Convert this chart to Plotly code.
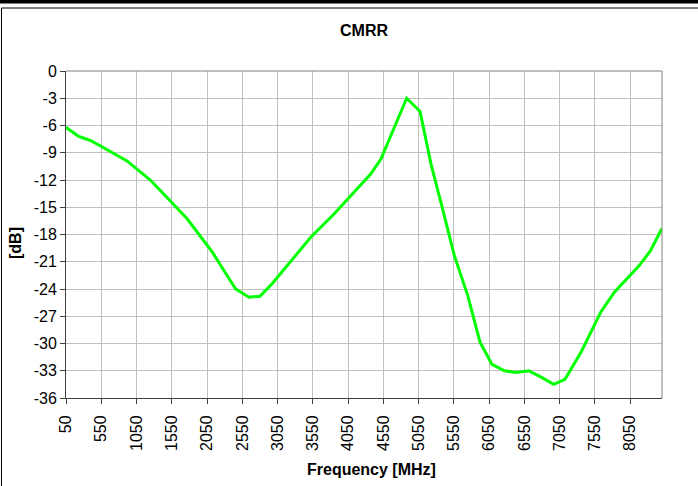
import plotly.graph_objects as go

# Frequency [MHz] and CMRR [dB]
freq_mhz = [50, 230, 395, 540, 915, 1080, 1245, 1435, 1770, 2125, 2455, 2645, 2800, 2975,
            3520, 3850, 4180, 4370, 4515, 4700, 4880, 5070, 5225, 5390, 5555, 5745, 5920,
            6090, 6265, 6430, 6610, 6785, 6965, 7125, 7355, 7635, 7825, 8180, 8335, 8500]
cmrr_db = [-6.2, -7.2, -7.65, -8.25, -9.9, -11.0, -12.0, -13.55, -16.3, -19.95, -24.0, -24.9,
           -24.8, -23.4, -18.3, -15.75, -13.0, -11.35, -9.7, -6.4, -3.0, -4.45, -10.25, -15.2,
           -20.3, -24.7, -29.85, -32.3, -33.0, -33.2, -33.0, -33.7, -34.5, -33.95, -30.9,
           -26.5, -24.35, -21.4, -19.8, -17.3]

x_ticks = list(range(50, 8051, 500))
y_ticks = list(range(-36, 1, 3))

W, H = 698, 486
L, R, T, B = 66, 36, 71, 88
pw, ph = W - L - R, H - T - B

def px(x):
    return (x - L) / pw

def py(y):
    return (H - B - y) / ph

fig = go.Figure()
fig.add_trace(go.Scatter(x=freq_mhz, y=cmrr_db, mode="lines",
                         line=dict(color="#00ff00", width=3), showlegend=False))

font = "Liberation Sans, Arial, sans-serif"
fig.update_layout(
    width=W, height=H,
    margin=dict(l=L, r=R, t=T, b=B, autoexpand=False),
    paper_bgcolor="white", plot_bgcolor="white",
    title=dict(text="<b>CMRR</b>", xref="container", x=364 / W, xanchor="center",
               yref="container", y=1 - 30 / H, yanchor="middle",
               font=dict(family=font, size=16, color="black")),
    xaxis=dict(range=[50, 8500], tickvals=x_ticks, ticktext=[str(v) for v in x_ticks],
               tickangle=-90, showgrid=True, gridcolor="#c0c0c0", gridwidth=1,
               showline=True, linecolor="#404040", linewidth=1, ticks="outside", ticklen=5,
               tickcolor="#404040", tickfont=dict(family=font, size=16, color="black"),
               ticklabelstandoff=5, zeroline=False),
    yaxis=dict(range=[-36, 0], tickvals=y_ticks, ticktext=[str(v) for v in y_ticks],
               showgrid=True, gridcolor="#c0c0c0", gridwidth=1,
               showline=True, linecolor="#404040", linewidth=1, ticks="outside", ticklen=5,
               tickcolor="#404040", tickfont=dict(family=font, size=16, color="black"),
               zeroline=False),
    annotations=[
        dict(text="<b>Frequency [MHz]</b>", xref="paper", yref="paper", x=px(371), y=py(469),
             xanchor="center", yanchor="middle", showarrow=False,
             font=dict(family=font, size=16, color="black")),
        dict(text="<b>[dB]</b>", xref="paper", yref="paper", x=px(15), y=py(243),
             xanchor="center", yanchor="middle", showarrow=False, textangle=-90,
             font=dict(family=font, size=16, color="black")),
    ],
    shapes=[
        # plot frame top/right
        dict(type="line", xref="paper", yref="paper", x0=0, x1=1, y0=1, y1=1,
             line=dict(color="#808080", width=1)),
        dict(type="line", xref="paper", yref="paper", x0=1, x1=1, y0=0, y1=1,
             line=dict(color="#808080", width=1)),
        # thick top band
        dict(type="rect", xref="paper", yref="paper", x0=px(-5), x1=px(W + 5),
             y0=py(3.5), y1=py(-3), fillcolor="black", line=dict(width=0), layer="above"),
        # outer thin border
        dict(type="line", xref="paper", yref="paper", x0=px(1.5), x1=px(W + 5),
             y0=py(8), y1=py(8), line=dict(color="black", width=1)),
        dict(type="line", xref="paper", yref="paper", x0=px(1.5), x1=px(1.5),
             y0=py(8), y1=py(H + 5), line=dict(color="black", width=1)),
    ],
)

fig.write_html("out.html", config={"displayModeBar": False},
               post_script="document.body.style.margin='0';")
